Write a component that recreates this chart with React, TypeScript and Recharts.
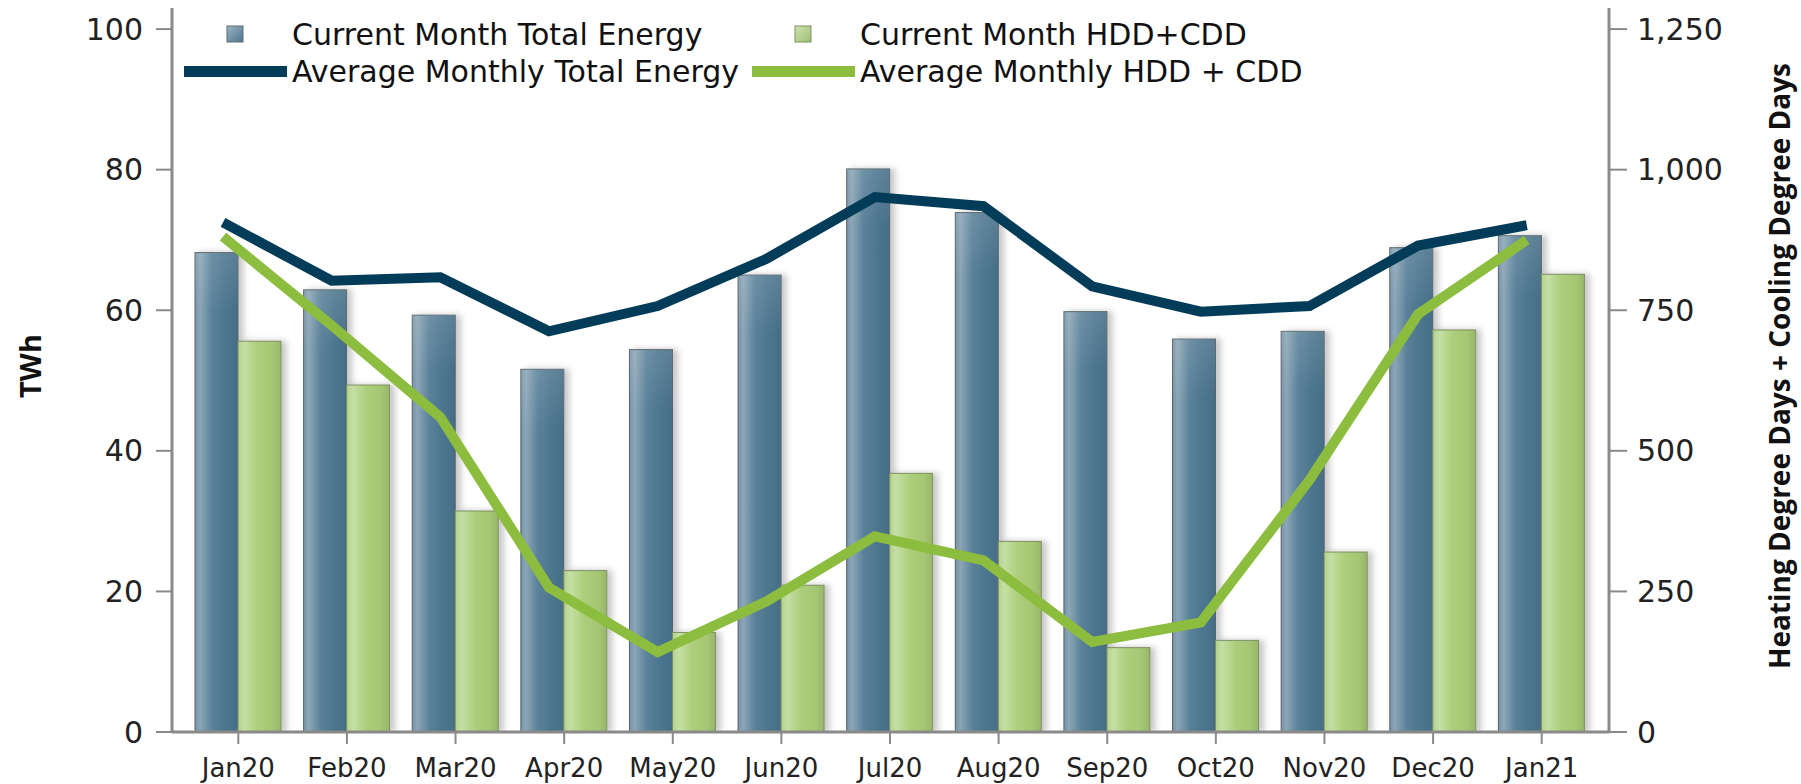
import React from 'react';
import { ComposedChart, Bar, Line, XAxis, YAxis } from 'recharts';

const months = ['Jan20', 'Feb20', 'Mar20', 'Apr20', 'May20', 'Jun20', 'Jul20', 'Aug20', 'Sep20', 'Oct20', 'Nov20', 'Dec20', 'Jan21'];
const currentEnergy = [68.2, 62.9, 59.3, 51.6, 54.4, 65.0, 80.1, 73.9, 59.8, 55.9, 57.0, 68.9, 70.6];
const currentHdd = [695, 617, 393, 287, 177, 261, 460, 339, 150, 163, 320, 715, 814];
const avgEnergy = [72.5, 64.2, 64.7, 57.0, 60.6, 67.3, 76.1, 74.8, 63.4, 59.8, 60.6, 69.2, 72.1];
const avgHdd = [881, 723, 560, 257, 142, 232, 348, 305, 160, 195, 448, 743, 875];
const leftTicks = [0, 20, 40, 60, 80, 100];
const rightTicks = [0, 250, 500, 750, 1000, 1250];

const data = months.map((m, i) => ({
  month: m,
  idx: i,
  currentEnergy: currentEnergy[i],
  currentHdd: currentHdd[i],
  avgEnergy: avgEnergy[i],
  avgHdd: avgHdd[i],
}));

const NAVY = '#033c58';
const GREEN = '#8cbd3e';
const FRAME = '#8a8a8a';

const BlueBar = (props: any) => {
  const { x, y, width, height } = props;
  if (!height || height <= 0) return null;
  return (
    <g>
      <rect x={x} y={y} width={width} height={height} fill="url(#blueGrad)" stroke="#56636b" strokeWidth={1} filter="url(#barShadow)" />
      <rect x={x} y={y} width={width} height={Math.min(60, height)} fill="url(#glossGrad)" />
    </g>
  );
};

const GreenBar = (props: any) => {
  const { x, y, width, height } = props;
  if (!height || height <= 0) return null;
  return (
    <g>
      <rect x={x} y={y} width={width} height={height} fill="url(#greenGrad)" stroke="#7d8f62" strokeWidth={1} filter="url(#barShadow)" />
    </g>
  );
};

const tickStyle = { fontFamily: 'DejaVu Sans', fontSize: 30, fill: '#222' };

export default function App() {
  return (
    <div style={{ position: 'absolute', left: 0, top: 0, width: 1801, height: 784, background: '#fff' }}>
      <svg width={0} height={0} style={{ position: 'absolute' }}>
        <defs>
          <linearGradient id="blueGrad" x1="0" y1="0" x2="1" y2="0">
            <stop offset="0" stopColor="#7793a6" />
            <stop offset="0.12" stopColor="#8ba6b7" />
            <stop offset="0.4" stopColor="#5a8199" />
            <stop offset="0.7" stopColor="#4d768f" />
            <stop offset="1" stopColor="#456d86" />
          </linearGradient>
          <linearGradient id="greenGrad" x1="0" y1="0" x2="1" y2="0">
            <stop offset="0" stopColor="#b4d28c" />
            <stop offset="0.15" stopColor="#c6dfa4" />
            <stop offset="0.45" stopColor="#adcf7c" />
            <stop offset="0.8" stopColor="#a5c774" />
            <stop offset="1" stopColor="#98b66a" />
          </linearGradient>
          <linearGradient id="glossGrad" x1="0" y1="0" x2="0" y2="1">
            <stop offset="0" stopColor="#ffffff" stopOpacity="0.12" />
            <stop offset="1" stopColor="#ffffff" stopOpacity="0" />
          </linearGradient>
          <linearGradient id="legBlue" x1="0" y1="0" x2="1" y2="1">
            <stop offset="0" stopColor="#9bb3c3" />
            <stop offset="1" stopColor="#4d768f" />
          </linearGradient>
          <linearGradient id="legGreen" x1="0" y1="0" x2="1" y2="1">
            <stop offset="0" stopColor="#cfe3b0" />
            <stop offset="1" stopColor="#9fbf72" />
          </linearGradient>
          <filter id="barShadow" x="-30%" y="-5%" width="170%" height="110%">
            <feDropShadow dx="5" dy="0" stdDeviation="3" floodColor="#000" floodOpacity="0.22" />
          </filter>
        </defs>
      </svg>
      <ComposedChart
        width={1801}
        height={784}
        data={data}
        margin={{ top: 8, right: 0, bottom: 0, left: 0 }}
        barCategoryGap={11}
        barGap={0}
      >
        <XAxis
          xAxisId="cat"
          dataKey="month"
          type="category"
          interval={0}
          height={52}
          padding={{ left: 12, right: 13 }}
          tickSize={12}
          tickMargin={15}
          axisLine={{ stroke: FRAME, strokeWidth: 3 }}
          tickLine={{ stroke: FRAME, strokeWidth: 2 }}
          tick={{ fontFamily: 'DejaVu Sans', fontSize: 26, fill: '#222' }}
        />
        <XAxis
          xAxisId="top"
          dataKey="month"
          orientation="top"
          height={0}
          tick={false}
          tickLine={false}
          axisLine={{ stroke: FRAME, strokeWidth: 3 }}
        />
        <XAxis
          xAxisId="num"
          dataKey="idx"
          type="number"
          domain={[-0.4694, 12.757]}
          allowDataOverflow
          hide
        />
        <YAxis
          yAxisId="left"
          width={172}
          domain={[0, 103]}
          ticks={leftTicks}
          allowDataOverflow
          tickSize={16}
          tickMargin={13}
          axisLine={{ stroke: FRAME, strokeWidth: 3 }}
          tickLine={{ stroke: FRAME, strokeWidth: 2 }}
          tick={tickStyle}
        />
        <YAxis
          yAxisId="right"
          orientation="right"
          width={192}
          domain={[0, 1287.5]}
          ticks={rightTicks}
          allowDataOverflow
          tickSize={18}
          tickMargin={10}
          axisLine={{ stroke: FRAME, strokeWidth: 3 }}
          tickLine={{ stroke: FRAME, strokeWidth: 2 }}
          tick={tickStyle}
          tickFormatter={(v: number) => v.toLocaleString('en-US')}
        />
        <Bar xAxisId="cat" yAxisId="left" dataKey="currentEnergy" shape={<BlueBar />} isAnimationActive={false} />
        <Bar xAxisId="cat" yAxisId="right" dataKey="currentHdd" shape={<GreenBar />} isAnimationActive={false} />
        <Line xAxisId="num" yAxisId="left" type="linear" dataKey="avgEnergy" stroke={NAVY} strokeWidth={10} dot={false} activeDot={false} strokeLinejoin="miter" isAnimationActive={false} />
        <Line xAxisId="num" yAxisId="right" type="linear" dataKey="avgHdd" stroke={GREEN} strokeWidth={10} dot={false} activeDot={false} strokeLinejoin="miter" isAnimationActive={false} />
      </ComposedChart>
      <svg width={1801} height={784} style={{ position: 'absolute', left: 0, top: 0, pointerEvents: 'none' }}>
        <rect x={227} y={26} width={16} height={16} fill="url(#legBlue)" stroke="#5c6d77" strokeWidth={1} />
        <text x={292} y={45} fontFamily="DejaVu Sans" fontSize={30} fill="#111">Current Month Total Energy</text>
        <rect x={795} y={26} width={16} height={16} fill="url(#legGreen)" stroke="#7d8f62" strokeWidth={1} />
        <text x={860} y={45} fontFamily="DejaVu Sans" fontSize={30} fill="#111">Current Month HDD+CDD</text>
        <rect x={184} y={66} width={103} height={11} fill={NAVY} />
        <text x={292} y={82} fontFamily="DejaVu Sans" fontSize={30} fill="#111">Average Monthly Total Energy</text>
        <rect x={752} y={66} width={103} height={11} fill={GREEN} />
        <text x={860} y={82} fontFamily="DejaVu Sans" fontSize={30} fill="#111">Average Monthly HDD + CDD</text>
        <text x={29} y={366} transform="rotate(-90, 29, 366)" textAnchor="middle" dominantBaseline="central" fontFamily="Open Sans" fontWeight={700} fontSize={29} fill="#111">TWh</text>
        <text x={1779} y={366} transform="rotate(-90, 1779, 366)" textAnchor="middle" dominantBaseline="central" fontFamily="Open Sans" fontWeight={700} fontSize={28} fill="#111">Heating Degree Days + Cooling Degree Days</text>
      </svg>
    </div>
  );
}
